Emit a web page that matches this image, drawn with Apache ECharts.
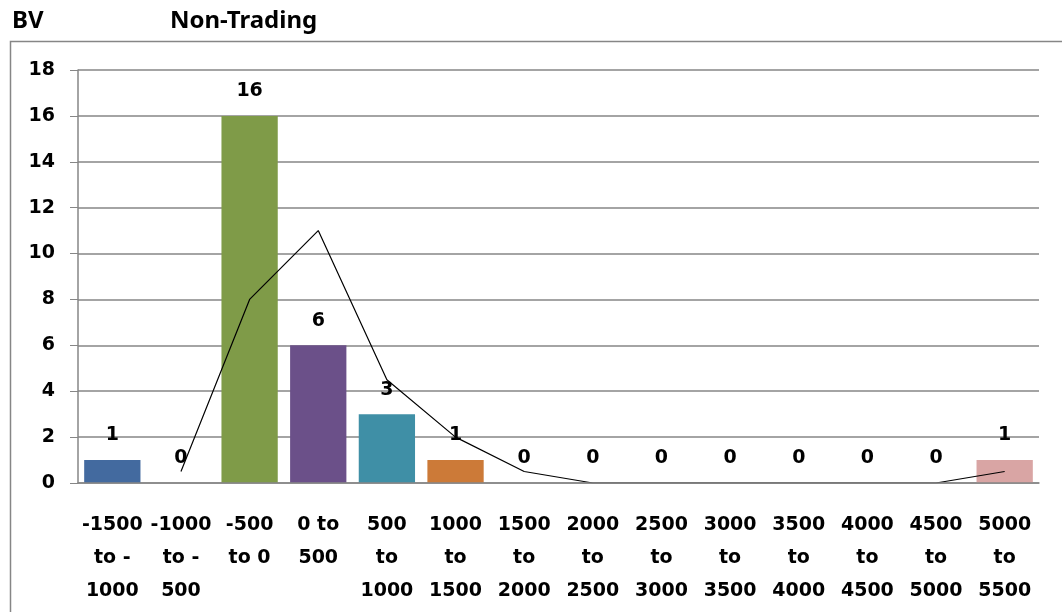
<!DOCTYPE html>
<html>
<head>
<meta charset="utf-8">
<script src="https://cdn.jsdelivr.net/npm/echarts@6/dist/echarts.min.js"></script>
<style>
  html, body {margin: 0; padding: 0; background: #fff;}
  #chart {width: 1062px; height: 612px;}
</style>
</head>
<body>
<div id="chart"></div>
<script>
// bins of the histogram
const categories = [
    '-1500\nto -\n1000', '-1000\nto -\n500', '-500\nto 0', '0 to\n500',
    '500\nto\n1000', '1000\nto\n1500', '1500\nto\n2000', '2000\nto\n2500',
    '2500\nto\n3000', '3000\nto\n3500', '3500\nto\n4000', '4000\nto\n4500',
    '4500\nto\n5000', '5000\nto\n5500'
];
const counts = [1, 0, 16, 6, 3, 1, 0, 0, 0, 0, 0, 0, 0, 1];
// 2-period moving average trendline
const trend = [null, 0.5, 8, 11, 4.5, 2, 0.5, 0, 0, 0, 0, 0, 0, 0.5];
const barColors = ['#436A9F', '#436A9F', '#7F9B48', '#6B5089', '#3F8FA6', '#CC7A38',
    '#436A9F', '#436A9F', '#436A9F', '#436A9F', '#436A9F', '#436A9F', '#436A9F', '#D9A5A4'];
const yTicks = {min: 0, max: 18, interval: 2};

const font = 'DejaVu Sans';
const chart = echarts.init(document.getElementById('chart'));
chart.setOption({
    animation: false,
    backgroundColor: '#fff',
    graphic: [
        {type: 'text', left: 12, top: 9, style: {text: 'BV', font: 'bold 24px "Noto Sans"', fill: '#000'}},
        {type: 'text', left: 170, top: 9, style: {text: 'Non-Trading', font: 'bold 24px "Noto Sans"', fill: '#000'}},
        {type: 'rect', shape: {x: 10.5, y: 41.5, width: 1100, height: 700},
            style: {fill: 'none', stroke: '#868686', lineWidth: 1.5}, z: -1}
    ],
    grid: {left: 78, right: 23, top: 70, bottom: 129},
    xAxis: {
        type: 'category',
        data: categories,
        z: 10,
        axisLine: {lineStyle: {color: '#868686', width: 1.5}},
        axisTick: {length: 8, lineStyle: {color: '#868686'}},
        axisLabel: {
            interval: 0, margin: 26, color: '#000',
            fontFamily: font, fontWeight: 'bold', fontSize: 19, lineHeight: 33
        }
    },
    yAxis: {
        type: 'value',
        min: yTicks.min, max: yTicks.max, interval: yTicks.interval,
        axisLine: {show: true, lineStyle: {color: '#868686', width: 1.5}},
        axisTick: {show: true, length: 8, lineStyle: {color: '#868686'}},
        axisLabel: {margin: 23, color: '#000', fontFamily: font, fontWeight: 'bold', fontSize: 19},
        splitLine: {lineStyle: {color: '#868686', width: 1.5}}
    },
    series: [
        {
            type: 'bar',
            data: counts.map((v, i) => ({value: v, itemStyle: {color: barColors[i]}})),
            barCategoryGap: '18%',
            z: 2,
            label: {
                show: true, position: 'top', distance: 15, color: '#000',
                fontFamily: font, fontWeight: 'bold', fontSize: 19
            }
        },
        {
            type: 'line',
            data: trend,
            z: 3,
            showSymbol: false,
            connectNulls: false,
            lineStyle: {color: '#000', width: 1.2}
        }
    ]
});
</script>
</body>
</html>
